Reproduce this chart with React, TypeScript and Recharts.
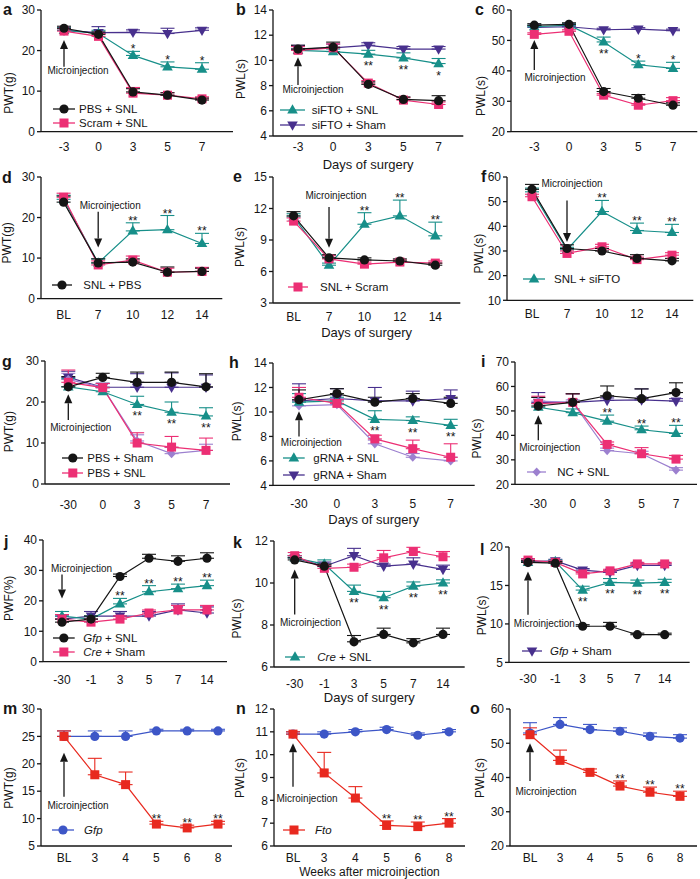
import React from "react";
import { LineChart, Line, XAxis, YAxis, ErrorBar, ReferenceLine, ReferenceDot, Legend } from "recharts";

const FONT = '"Liberation Sans", Arial, Helvetica, sans-serif';
const INK = "#161616";

const BLACK = "#151515";
const PINK = "#ec2f74";
const TEAL = "#178f89";
const PURPLE = "#48308d";
const LAVENDER = "#9c80cf";
const BLUE = "#3d56c7";
const RED = "#e8291f";

// x categories
const daysPre3 = ["-3", "0", "3", "5", "7"];
const daysBL = ["BL", "7", "10", "12", "14"];
const daysPre30 = ["-30", "0", "3", "5", "7"];
const daysCre = ["-30", "-1", "3", "5", "7", "14"];
const weeksAfter = ["BL", "3", "4", "5", "6", "8"];

// a  PWT(g)
const aPbsSnl = [25.5, 24.0, 9.8, 9.0, 7.8];
const aPbsSnlErr = [0.5, 0.6, 0.8, 0.6, 0.5];
const aScramSnl = [24.8, 23.5, 9.5, 9.0, 8.1];
const aScramSnlErr = [0.6, 0.7, 1.4, 0.6, 0.5];
const aSiftoSnl = [25.0, 24.2, 18.8, 16.0, 15.4];
const aSiftoSnlErr = [0.6, 0.8, 1.0, 1.2, 1.6];
const aSiftoSham = [25.0, 24.4, 24.5, 24.2, 25.0];
const aSiftoShamErr = [0.6, 1.5, 0.6, 1.3, 0.6];

// b  PWL(s)
const bPbsSnl = [10.9, 11.05, 8.1, 6.9, 6.8];
const bPbsSnlErr = [0.3, 0.4, 0.2, 0.2, 0.4];
const bScramSnl = [10.8, 11.0, 8.2, 6.85, 6.5];
const bScramSnlErr = [0.3, 0.3, 0.2, 0.2, 0.2];
const bSiftoSnl = [10.8, 10.7, 10.5, 10.2, 9.75];
const bSiftoSnlErr = [0.3, 0.2, 0.3, 0.4, 0.4];
const bSiftoSham = [10.9, 11.0, 11.2, 10.9, 10.9];
const bSiftoShamErr = [0.3, 0.3, 0.2, 0.2, 0.2];

// c  PWL(s)
const cPbsSnl = [55.0, 55.3, 33.2, 31.0, 28.7];
const cPbsSnlErr = [0.5, 0.5, 1.0, 1.2, 0.8];
const cScramSnl = [52.0, 53.0, 32.0, 28.7, 30.2];
const cScramSnlErr = [0.5, 0.5, 0.5, 0.5, 1.0];
const cSiftoSnl = [54.5, 55.0, 49.5, 42.0, 40.8];
const cSiftoSnlErr = [0.5, 0.5, 1.6, 1.2, 2.0];
const cSiftoSham = [54.3, 54.5, 53.5, 53.7, 53.2];
const cSiftoShamErr = [0.5, 0.5, 0.5, 0.5, 0.5];

// d  PWT(g)
const dSnlPbs = [23.8, 8.8, 9.0, 6.5, 6.7];
const dSnlPbsErr = [1.5, 1.0, 0.8, 1.3, 0.8];
const dSnlScram = [25.0, 8.3, 9.5, 6.5, 6.7];
const dSnlScramErr = [1.0, 1.0, 1.0, 1.0, 1.0];
const dSnlSifto = [24.5, 8.8, 16.7, 17.0, 13.6];
const dSnlSiftoErr = [1.0, 1.0, 2.0, 3.5, 2.5];

// e  PWL(s)
const eSnlPbs = [11.3, 7.3, 7.1, 7.0, 6.6];
const eSnlPbsErr = [0.4, 0.3, 0.2, 0.2, 0.2];
const eSnlScram = [10.8, 7.2, 6.7, 6.9, 6.8];
const eSnlScramErr = [0.3, 0.3, 0.2, 0.2, 0.2];
const eSnlSifto = [11.2, 6.6, 10.5, 11.3, 9.4];
const eSnlSiftoErr = [0.3, 0.2, 1.1, 1.5, 1.3];

// f  PWL(s)
const fSnlPbs = [55.0, 31.0, 30.0, 27.0, 26.0];
const fSnlPbsErr = [2.0, 1.5, 1.0, 1.5, 1.0];
const fSnlScram = [52.0, 29.0, 31.7, 26.5, 28.3];
const fSnlScramErr = [1.0, 1.0, 1.0, 1.0, 1.0];
const fSnlSifto = [54.0, 30.5, 46.0, 38.3, 37.5];
const fSnlSiftoErr = [1.5, 1.0, 4.5, 3.0, 3.3];

// g  PWT(g)
const gPbsSham = [23.7, 26.0, 24.8, 24.8, 23.7];
const gPbsShamErr = [2.5, 1.0, 2.5, 2.5, 3.2];
const gPbsSnl = [24.8, 23.5, 10.0, 9.0, 8.2];
const gPbsSnlErr = [3.0, 1.0, 2.5, 2.6, 3.0];
const gGrnaSnl = [23.7, 22.5, 19.4, 17.5, 16.6];
const gGrnaSnlErr = [2.0, 1.0, 2.0, 2.5, 2.0];
const gGrnaSham = [26.0, 23.6, 23.6, 23.6, 23.6];
const gGrnaShamErr = [1.5, 1.0, 3.3, 3.5, 3.0];
const gNcSnl = [25.5, 23.5, 10.5, 7.4, 8.2];
const gNcSnlErr = [1.5, 1.0, 1.5, 1.5, 1.5];

// h  PWL(s)
const hPbsSham = [11.0, 11.5, 10.8, 11.1, 10.7];
const hPbsShamErr = [0.8, 0.4, 0.4, 0.4, 0.5];
const hPbsSnl = [11.2, 10.7, 7.8, 7.0, 6.3];
const hPbsSnlErr = [0.8, 0.3, 0.3, 0.7, 1.1];
const hGrnaSnl = [10.8, 10.9, 9.4, 9.3, 8.9];
const hGrnaSnlErr = [0.7, 0.3, 0.7, 0.3, 0.5];
const hGrnaSham = [10.9, 11.1, 10.9, 10.9, 11.1];
const hGrnaShamErr = [1.4, 0.8, 1.1, 0.8, 0.7];
const hNcSnl = [10.5, 10.6, 7.4, 6.3, 6.0];
const hNcSnlErr = [1.5, 0.5, 0.3, 0.3, 0.3];

// i  PWL(s)
const iPbsSham = [52.0, 53.5, 56.2, 55.0, 57.5];
const iPbsShamErr = [3.5, 3.5, 4.0, 4.0, 4.0];
const iPbsSnl = [53.0, 53.5, 36.3, 32.5, 30.3];
const iPbsSnlErr = [3.0, 3.5, 1.0, 2.5, 1.5];
const iGrnaSnl = [51.5, 49.3, 45.8, 42.3, 40.8];
const iGrnaSnlErr = [1.5, 1.5, 2.5, 1.5, 3.3];
const iGrnaSham = [53.5, 53.5, 54.3, 54.5, 54.0];
const iGrnaShamErr = [4.0, 3.5, 1.0, 4.5, 1.0];
const iNcSnl = [54.0, 53.5, 33.8, 32.5, 25.8];
const iNcSnlErr = [1.5, 1.0, 1.0, 1.0, 1.0];

// j  PWF(%)
const jGfpSnl = [13, 14, 28, 34, 33, 34];
const jGfpSnlErr = [1.0, 1.0, 0.8, 1.3, 1.8, 1.8];
const jCreSham = [14, 13, 14, 16, 17, 17];
const jCreShamErr = [1.5, 1.0, 1.0, 1.0, 1.5, 1.5];
const jCreSnl = [15, 14, 19, 23, 24, 25];
const jCreSnlErr = [1.5, 1.0, 1.8, 2.0, 1.5, 1.8];
const jGfpSham = [14, 15, 15, 15, 17, 16];
const jGfpShamErr = [1.0, 1.5, 1.5, 1.5, 2.0, 2.0];

// k  PWL(s)
const kGfpSnl = [11.1, 10.8, 7.2, 7.55, 7.15, 7.55];
const kGfpSnlErr = [0.1, 0.1, 0.3, 0.3, 0.2, 0.3];
const kCreSham = [11.3, 10.7, 10.75, 11.2, 11.5, 11.25];
const kCreShamErr = [0.15, 0.15, 0.15, 0.35, 0.2, 0.25];
const kCreSnl = [11.2, 10.9, 9.6, 9.3, 9.85, 10.0];
const kCreSnlErr = [0.1, 0.2, 0.3, 0.3, 0.2, 0.15];
const kGfpSham = [11.2, 10.8, 11.3, 10.8, 10.9, 10.65];
const kGfpShamErr = [0.1, 0.2, 0.35, 0.1, 0.3, 0.2];

// l  PWL(s)
const lGfpSnl = [18.0, 17.9, 9.7, 9.7, 8.6, 8.6];
const lGfpSnlErr = [0.2, 0.2, 0.2, 0.5, 0.2, 0.2];
const lCreSham = [18.3, 18.0, 16.5, 16.9, 17.8, 17.8];
const lCreShamErr = [0.2, 0.2, 0.2, 0.2, 0.2, 0.2];
const lCreSnl = [18.0, 18.1, 14.4, 15.4, 15.3, 15.4];
const lCreSnlErr = [0.2, 0.2, 0.5, 0.5, 0.4, 0.4];
const lGfpSham = [18.1, 18.2, 17.0, 16.7, 17.6, 17.6];
const lGfpShamErr = [0.2, 0.2, 0.2, 0.2, 0.2, 0.2];

// m  PWT(g)
const mGfp = [25, 25, 25, 26, 26, 26];
const mGfpErr = [1.0, 1.0, 1.0, 0.3, 0.3, 0.3];
const mFto = [25, 18, 16.2, 9, 8.3, 9];
const mFtoErr = [1.0, 3.0, 2.3, 0.5, 0.5, 0.5];

// n  PWL(s)
const nGfp = [10.9, 10.9, 11.0, 11.1, 10.85, 11.0];
const nGfpErr = [0.1, 0.1, 0.1, 0.1, 0.1, 0.1];
const nFto = [10.9, 9.2, 8.1, 6.9, 6.85, 7.0];
const nFtoErr = [0.1, 0.9, 0.5, 0.2, 0.2, 0.2];

// o  PWL(s)
const oGfp = [53, 55.5, 54, 53.5, 52, 51.5];
const oGfpErr = [3.0, 2.0, 1.5, 1.0, 1.0, 1.0];
const oFto = [52.5, 45, 41.5, 37.5, 35.7, 34.5];
const oFtoErr = [2.0, 3.0, 1.0, 1.5, 1.5, 1.5];

type Shape = "circle" | "square" | "up" | "down" | "diamond";
type Series = { v: number[]; e: number[]; color: string; shape: Shape };
type Star = { s: number; i: number; t: string; up: boolean };

const YW = 50;
const MT = 12;
const MR = 6;

function marker(shape: Shape, cx: number, cy: number, color: string, key?: any) {
  if (shape === "circle") return <circle key={key} cx={cx} cy={cy} r={4.6} fill={color} />;
  if (shape === "square") return <rect key={key} x={cx - 4.5} y={cy - 4.5} width={9} height={9} fill={color} />;
  if (shape === "up")
    return <polygon key={key} points={`${cx},${cy - 5.8} ${cx - 5.3},${cy + 3.6} ${cx + 5.3},${cy + 3.6}`} fill={color} />;
  if (shape === "down")
    return <polygon key={key} points={`${cx},${cy + 5.8} ${cx - 5.3},${cy - 3.6} ${cx + 5.3},${cy - 3.6}`} fill={color} />;
  return <polygon key={key} points={`${cx},${cy - 4.6} ${cx + 4.2},${cy} ${cx},${cy + 4.6} ${cx - 4.2},${cy}`} fill={color} />;
}

const stars = (s: number, idx: number[], t: string, up: boolean): Star[] => idx.map((i) => ({ s, i, t, up }));

const S = (v: number[], e: number[], color: string, shape: Shape): Series => ({ v, e, color, shape });

const panels: any[] = [
  {
    letter: "a", letterAt: [3, 10], cats: daysPre3, box: [41, 10, 233, 131.7], pad: [23, 31],
    domain: [0, 30], ticks: [0, 10, 20, 30], yLabel: "PWT(g)", yLab: [9, 93], xGap: 15,
    series: [S(aSiftoSham, aSiftoShamErr, PURPLE, "down"), S(aSiftoSnl, aSiftoSnlErr, TEAL, "up"), S(aScramSnl, aScramSnlErr, PINK, "square"), S(aPbsSnl, aPbsSnlErr, BLACK, "circle")],
    legend: { items: [3, 2], labels: ["PBS + SNL", "Scram + SNL"], x: 53, y: 109.3, w: 22, tx: 79, dy: 14 },
    stars: stars(1, [2, 3, 4], "*", true),
    inj: { i: 0, from: 16.0, to: 22.6, dx: 14, ty: 15.2 },
  },
  {
    letter: "b", letterAt: [236, 10], cats: daysPre3, box: [272.7, 10, 463, 136], pad: [25, 24.7],
    domain: [4, 14], ticks: [4, 6, 8, 10, 12, 14], yLabel: "PWL(s)", yLab: [240, 79], xGap: 10,
    xLabel: "Days of surgery", xLabelDy: 33,
    series: [S(bSiftoSham, bSiftoShamErr, PURPLE, "down"), S(bSiftoSnl, bSiftoSnlErr, TEAL, "up"), S(bScramSnl, bScramSnlErr, PINK, "square"), S(bPbsSnl, bPbsSnlErr, BLACK, "circle")],
    legend: { items: [1, 0], labels: ["siFTO + SNL", "siFTO + Sham"], x: 280, y: 110, w: 25, tx: 311.7, dy: 15 },
    stars: [...stars(1, [2, 3], "**", false), ...stars(1, [4], "*", false)],
    inj: { i: 0, from: 8.05, to: 10.25, dx: 15, ty: 7.7 },
  },
  {
    letter: "c", letterAt: [475, 10], cats: daysPre3, box: [510.7, 10, 697, 131.7], pad: [23.3, 24.3],
    domain: [20, 60], ticks: [20, 30, 40, 50, 60], yLabel: "PWL(s)", yLab: [480, 96], xGap: 15,
    series: [S(cSiftoSham, cSiftoShamErr, PURPLE, "down"), S(cSiftoSnl, cSiftoSnlErr, TEAL, "up"), S(cScramSnl, cScramSnlErr, PINK, "square"), S(cPbsSnl, cPbsSnlErr, BLACK, "circle")],
    stars: [...stars(1, [2], "**", false), ...stars(1, [3, 4], "*", true)],
    inj: { i: 0, from: 40.3, to: 50.1, dx: 20.7, ty: 37.9 },
  },
  {
    letter: "d", letterAt: [2, 178], cats: daysBL, box: [40.7, 176.7, 222, 298.3], pad: [22.6, 20.3],
    domain: [0, 30], ticks: [0, 10, 20, 30], yLabel: "PWT(g)", yLab: [6, 242.5], xGap: 15.7,
    series: [S(dSnlSifto, dSnlSiftoErr, TEAL, "up"), S(dSnlScram, dSnlScramErr, PINK, "square"), S(dSnlPbs, dSnlPbsErr, BLACK, "circle")],
    legend: { items: [2], labels: ["SNL + PBS"], x: 51.7, y: 285, w: 20, tx: 83.3, dy: 15 },
    stars: stars(0, [2, 3, 4], "**", true),
    inj: { i: 1, from: 21.4, to: 12.6, dx: 12, ty: 23.0 },
  },
  {
    letter: "e", letterAt: [233, 177], cats: daysBL, box: [272.7, 176.7, 460, 302.7], pad: [20.6, 25],
    domain: [3, 15], ticks: [3, 6, 9, 12, 15], yLabel: "PWL(s)", yLab: [239.3, 246.7], xGap: 13.3,
    xLabel: "Days of surgery", xLabelDy: 34,
    series: [S(eSnlSifto, eSnlSiftoErr, TEAL, "up"), S(eSnlScram, eSnlScramErr, PINK, "square"), S(eSnlPbs, eSnlPbsErr, BLACK, "circle")],
    legend: { items: [1], labels: ["SNL + Scram"], x: 288, y: 286.7, w: 20, tx: 320, dy: 15 },
    stars: stars(0, [2, 3, 4], "**", true),
    inj: { i: 1, from: 12.14, to: 8.27, dx: 7, ty: 13.26 },
  },
  {
    letter: "f", letterAt: [481, 177], cats: daysBL, box: [506.7, 176.7, 693, 300], pad: [25, 21.3],
    domain: [10, 60], ticks: [10, 20, 30, 40, 50, 60], yLabel: "PWL(s)", yLab: [478.3, 253.3], xGap: 13.3,
    series: [S(fSnlSifto, fSnlSiftoErr, TEAL, "up"), S(fSnlScram, fSnlScramErr, PINK, "square"), S(fSnlPbs, fSnlPbsErr, BLACK, "circle")],
    legend: { items: [0], labels: ["SNL + siFTO"], x: 523, y: 279.3, w: 22, tx: 554, dy: 15 },
    stars: stars(0, [2, 3, 4], "**", true),
    inj: { i: 1, from: 50.5, to: 33.6, dx: 5, ty: 57.3 },
  },
  {
    letter: "g", letterAt: [2, 362], cats: daysPre30, box: [45, 361, 230, 484], pad: [23.3, 24],
    domain: [0, 30], ticks: [0, 10, 20, 30], yLabel: "PWT(g)", yLab: [8.3, 431.7], xGap: 20,
    series: [S(gGrnaSham, gGrnaShamErr, PURPLE, "down"), S(gNcSnl, gNcSnlErr, LAVENDER, "diamond"), S(gGrnaSnl, gGrnaSnlErr, TEAL, "up"), S(gPbsSnl, gPbsSnlErr, PINK, "square"), S(gPbsSham, gPbsShamErr, BLACK, "circle")],
    legend: { items: [4, 3], labels: ["PBS + Sham", "PBS + SNL"], x: 61.7, y: 457.7, w: 21.6, tx: 87.3, dy: 15 },
    stars: stars(2, [2, 3, 4], "**", false),
    inj: { i: 0, from: 15.6, to: 21.9, dx: 12.5, ty: 13.7 },
  },
  {
    letter: "h", letterAt: [229, 363], cats: daysPre30, box: [273.3, 363.3, 475, 485.7], pad: [26, 24],
    domain: [4, 14], ticks: [4, 6, 8, 10, 12, 14], yLabel: "PWL(s)", yLab: [237.3, 421.7], xGap: 18.3,
    xLabel: "Days of surgery", xLabelDy: 39,
    series: [S(hGrnaSham, hGrnaShamErr, PURPLE, "down"), S(hNcSnl, hNcSnlErr, LAVENDER, "diamond"), S(hGrnaSnl, hGrnaSnlErr, TEAL, "up"), S(hPbsSnl, hPbsSnlErr, PINK, "square"), S(hPbsSham, hPbsShamErr, BLACK, "circle")],
    legend: { items: [2, 0], labels: ["gRNA + SNL", "gRNA + Sham"], x: 283.3, y: 458.3, w: 21.7, tx: 313.3, dy: 16.7 },
    stars: stars(2, [2, 3, 4], "**", false),
    inj: { i: 0, from: 8.0, to: 10.05, dx: 12.4, ty: 7.55 },
  },
  {
    letter: "i", letterAt: [481, 362], cats: daysPre30, box: [515, 361.7, 697, 484], pad: [23.3, 21],
    domain: [20, 70], ticks: [20, 30, 40, 50, 60, 70], yLabel: "PWL(s)", yLab: [476.7, 438.3], xGap: 19.3,
    series: [S(iGrnaSham, iGrnaShamErr, PURPLE, "down"), S(iNcSnl, iNcSnlErr, LAVENDER, "diamond"), S(iGrnaSnl, iGrnaSnlErr, TEAL, "up"), S(iPbsSnl, iPbsSnlErr, PINK, "square"), S(iPbsSham, iPbsShamErr, BLACK, "circle")],
    legend: { items: [1], labels: ["NC + SNL"], x: 526.7, y: 471.7, w: 19.3, tx: 557.3, dy: 15 },
    stars: stars(2, [2, 3, 4], "**", true),
    inj: { i: 0, from: 38, to: 48.2, dx: 11.4, ty: 35.0 },
  },
  {
    letter: "j", letterAt: [4, 542], cats: daysCre, box: [42.7, 540, 226.7, 661.7], pad: [19, 20],
    domain: [0, 40], ticks: [0, 10, 20, 30, 40], yLabel: "PWF(%)", yLab: [8.3, 598.3], xGap: 17.7,
    series: [S(jGfpSham, jGfpShamErr, PURPLE, "down"), S(jCreSnl, jCreSnlErr, TEAL, "up"), S(jCreSham, jCreShamErr, PINK, "square"), S(jGfpSnl, jGfpSnlErr, BLACK, "circle")],
    legend: { items: [3, 2], labels: [<span key="g"><i>Gfp</i> + SNL</span>, <span key="c"><i>Cre</i> + Sham</span>], x: 53.3, y: 637.7, w: 21.7, tx: 83.3, dy: 14.6 },
    stars: stars(1, [2, 3, 4, 5], "**", true),
    inj: { i: 0, from: 28.7, to: 20.8, dx: 19.5, ty: 30.7 },
  },
  {
    letter: "k", letterAt: [233, 543], cats: daysCre, box: [274.3, 540.7, 465, 666.7], pad: [20.7, 21.7],
    domain: [6, 12], ticks: [6, 8, 10, 12], yLabel: "PWL(s)", yLab: [237.3, 618.3], xGap: 16.7,
    xLabel: "Days of surgery", xLabelDy: 35,
    series: [S(kGfpSham, kGfpShamErr, PURPLE, "down"), S(kCreSnl, kCreSnlErr, TEAL, "up"), S(kCreSham, kCreShamErr, PINK, "square"), S(kGfpSnl, kGfpSnlErr, BLACK, "circle")],
    legend: { items: [1], labels: [<span key="c"><i>Cre</i> + SNL</span>], x: 285, y: 656.7, w: 20, tx: 317.3, dy: 15 },
    stars: stars(1, [2, 3, 4, 5], "**", false),
    inj: { i: 0, from: 8.5, to: 10.64, dx: 15.8, ty: 8.11 },
  },
  {
    letter: "l", letterAt: [480, 550], cats: daysCre, box: [509.3, 547.3, 690, 662.7], pad: [19, 25],
    domain: [5, 20], ticks: [5, 10, 15, 20], yLabel: "PWL(s)", yLab: [481.7, 615.7], xGap: 15.7,
    series: [S(lGfpSham, lGfpShamErr, PURPLE, "down"), S(lCreSnl, lCreSnlErr, TEAL, "up"), S(lCreSham, lCreShamErr, PINK, "square"), S(lGfpSnl, lGfpSnlErr, BLACK, "circle")],
    legend: { items: [0], labels: [<span key="g"><i>Gfp</i> + Sham</span>], x: 521.7, y: 651, w: 20, tx: 550, dy: 15 },
    stars: stars(1, [2, 3, 4, 5], "**", false),
    inj: { i: 0, from: 11.2, to: 16.8, dx: 16.4, ty: 10.1 },
  },
  {
    letter: "m", letterAt: [3, 709], cats: weeksAfter, box: [41, 709, 232, 846], pad: [23, 14],
    domain: [5, 30], ticks: [5, 10, 15, 20, 25, 30], yLabel: "PWT(g)", yLab: [9, 788], xGap: 11, xH: 33,
    series: [S(mGfp, mGfpErr, BLUE, "circle"), S(mFto, mFtoErr, RED, "square")],
    legend: { items: [0], labels: [<i key="g">Gfp</i>], x: 52, y: 830, w: 22, tx: 84, dy: 15 },
    stars: stars(1, [3, 4, 5], "**", true),
    inj: { i: 0, from: 14, to: 22, dx: 14, ty: 12.5 },
  },
  {
    letter: "n", letterAt: [236, 709], cats: weeksAfter, box: [274, 709, 465, 846], pad: [19, 16],
    domain: [6, 12], ticks: [6, 7, 8, 9, 10, 11, 12], yLabel: "PWL(s)", yLab: [240, 778], xGap: 11, xH: 33,
    xLabel: "Weeks after microinjection", xLabelDy: 30, xLabelSize: 12,
    series: [S(nGfp, nGfpErr, BLUE, "circle"), S(nFto, nFtoErr, RED, "square")],
    legend: { items: [1], labels: [<i key="f">Fto</i>], x: 283, y: 830, w: 22, tx: 315, dy: 15 },
    stars: stars(1, [3, 4, 5], "**", true),
    inj: { i: 0, from: 8.6, to: 10.5, dx: 14, ty: 8.1 },
  },
  {
    letter: "o", letterAt: [470, 709], cats: weeksAfter, box: [510, 709, 697, 846], pad: [20, 17],
    domain: [20, 60], ticks: [20, 30, 40, 50, 60], yLabel: "PWL(s)", yLab: [480, 778], xGap: 11, xH: 33,
    series: [S(oGfp, oGfpErr, BLUE, "circle"), S(oFto, oFtoErr, RED, "square")],
    stars: stars(1, [3, 4, 5], "**", true),
    inj: { i: 0, from: 39, to: 50, dx: 16, ty: 36 },
  },
];

function Panel({ p }: { p: any }) {
  const [L, T, R, B] = p.box;
  const xH = p.xH ?? 42;
  const width = R - L + YW + MR;
  const height = B - T + MT + xH;
  const left = L - YW;
  const top = T - MT;

  const data = p.cats.map((c: string, i: number) => {
    const row: any = { cat: c };
    p.series.forEach((s: Series, k: number) => {
      row["s" + k] = s.v[i];
      row["e" + k] = [0, s.e[i]];
    });
    return row;
  });

  const axisStyle = { stroke: INK, strokeWidth: 1.3 };
  const tickStyle = { fill: INK, fontSize: 12, fontFamily: FONT };
  const lg = p.legend;
  const inj = p.inj;
  const injCat = p.cats[inj.i];

  return (
    <div style={{ position: "absolute", left, top }}>
      <LineChart width={width} height={height} data={data} margin={{ top: MT, right: MR, left: 0, bottom: 0 }}>
        <XAxis
          dataKey="cat"
          scale="point"
          padding={{ left: p.pad[0], right: p.pad[1] }}
          interval={0}
          height={xH}
          tickLine={false}
          tickSize={p.xGap - 6}
          axisLine={axisStyle}
          tick={tickStyle}
          label={
            p.xLabel
              ? { value: p.xLabel, position: "insideBottom", offset: xH - p.xLabelDy, fill: INK, fontSize: p.xLabelSize ?? 13, fontFamily: FONT }
              : undefined
          }
        />
        <YAxis
          type="number"
          width={YW}
          domain={p.domain}
          ticks={p.ticks}
          interval={0}
          allowDataOverflow
          tickSize={4}
          tickLine={axisStyle}
          axisLine={axisStyle}
          tick={tickStyle}
          label={{
            value: p.yLabel,
            angle: -90,
            position: "insideLeft",
            offset: p.yLab[0] - left,
            dy: p.yLab[1] - (T + B) / 2,
            fill: INK,
            fontSize: 12,
            fontFamily: FONT,
            style: { textAnchor: "middle" },
          }}
        />
        {lg && (
          <Legend
            verticalAlign="middle"
            align="center"
            layout="horizontal"
            wrapperStyle={{ left: lg.x - left, top: lg.y - 7 - top, width: 160, height: lg.dy * lg.items.length }}
            content={() => (
              <div style={{ position: "relative", fontFamily: FONT, fontSize: 11.5, color: INK }}>
                {lg.items.map((k: number, r: number) => {
                  const s = p.series[k];
                  return (
                    <div key={r} style={{ position: "absolute", left: 0, top: r * lg.dy, height: 14, display: "flex", alignItems: "center", whiteSpace: "nowrap" }}>
                      <svg width={lg.w} height={14} style={{ display: "block" }}>
                        <line x1={0} y1={7} x2={lg.w} y2={7} stroke={s.color} strokeWidth={1.3} />
                        {marker(s.shape, lg.w / 2, 7, s.color)}
                      </svg>
                      <span style={{ marginLeft: lg.tx - lg.x - lg.w, lineHeight: "14px" }}>{lg.labels[r]}</span>
                    </div>
                  );
                })}
              </div>
            )}
          />
        )}
        {p.series.map((s: Series, k: number) => (
          <Line
            key={k}
            dataKey={"s" + k}
            stroke={s.color}
            strokeWidth={1.2}
            isAnimationActive={false}
            activeDot={false}
            dot={(d: any) => marker(s.shape, d.cx, d.cy, s.color, "m" + d.index)}
          >
            <ErrorBar dataKey={"e" + k} width={7} stroke={s.color} strokeWidth={1.1} direction="y" />
          </Line>
        ))}
        <ReferenceLine
          segment={[{ x: injCat, y: inj.from }, { x: injCat, y: inj.to }]}
          shape={(lp: any) => {
            const { x1, y1, x2, y2 } = lp;
            const dir = y2 > y1 ? 1 : -1;
            const head = 9;
            return (
              <g>
                <line x1={x1} y1={y1} x2={x2} y2={y2 - dir * head} stroke={INK} strokeWidth={1.3} />
                <polygon points={`${x2},${y2} ${x2 - 4},${y2 - dir * head} ${x2 + 4},${y2 - dir * head}`} fill={INK} />
              </g>
            );
          }}
        />
        <ReferenceDot
          x={injCat}
          y={inj.ty}
          r={0}
          shape={(dp: any) => (
            <text x={dp.cx + inj.dx} y={dp.cy + 3.6} textAnchor="middle" fontSize={10} fontFamily={FONT} fill={INK}>
              Microinjection
            </text>
          )}
        />
        {p.stars.map((st: Star, n: number) => {
          const s = p.series[st.s];
          const yv = st.up ? s.v[st.i] + s.e[st.i] : s.v[st.i];
          return (
            <ReferenceDot
              key={"st" + n}
              x={p.cats[st.i]}
              y={yv}
              r={0}
              shape={(dp: any) => (
                <text x={dp.cx} y={dp.cy + (st.up ? 2 : 16)} textAnchor="middle" fontSize={12} fontFamily={FONT} fill={INK}>
                  {st.t}
                </text>
              )}
            />
          );
        })}
      </LineChart>
    </div>
  );
}

export default function App() {
  return (
    <div style={{ position: "absolute", left: 0, top: 0, width: 700, height: 879, overflow: "hidden", background: "#fff" }}>
      {panels.map((p) => (
        <React.Fragment key={p.letter}>
          <Panel p={p} />
          <div
            style={{
              position: "absolute",
              left: p.letterAt[0],
              top: p.letterAt[1] - 9,
              lineHeight: "18px",
              fontSize: 16,
              fontWeight: "bold",
              fontFamily: FONT,
              color: INK,
            }}
          >
            {p.letter}
          </div>
        </React.Fragment>
      ))}
    </div>
  );
}
